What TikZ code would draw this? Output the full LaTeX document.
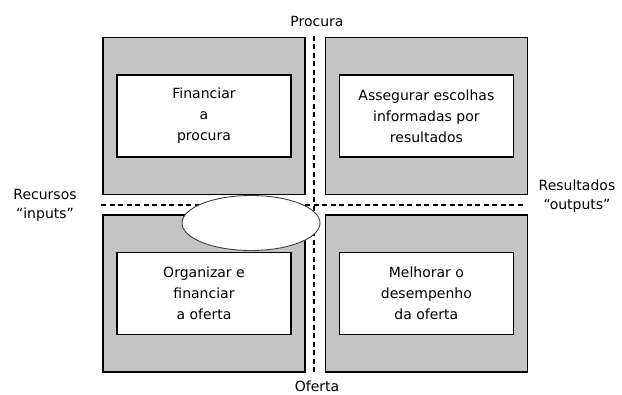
\documentclass[tikz,border=0pt]{standalone}
\usepackage{fontspec}
\setmainfont{DejaVu Sans}
\usetikzlibrary{positioning,shapes.geometric}
\definecolor{quadgray}{RGB}{196,196,196}

\begin{document}
\begin{tikzpicture}[
            x = 1pt, y = -1pt, % pixel grid, y downwards
            node distance = 19pt, % gap between quadrants
            font = \fontsize{14}{21}\selectfont,
            quad/.style = {shape=rectangle,draw,fill=quadgray,line width=1.4pt,
                           minimum width=202pt,minimum height=157pt,inner sep=0pt},
            task/.style = {shape=rectangle,draw,fill=white,line width=1.4pt,
                           minimum width=174pt,minimum height=82pt,align=center,inner sep=0pt},
            axis/.style = {line width=1.4pt,dash pattern=on 5pt off 3.5pt},
            hub/.style = {shape=ellipse,draw=black!75,fill=white,line width=0.9pt,
                          minimum width=138pt,minimum height=55pt},
            side/.style = {align=center,font=\fontsize{14}{19}\selectfont}
        ]
        \useasboundingbox (0,0) rectangle (622,395);

        % quadrants
        \node[quad] (ql)  at (204,116)        {};
        \node[quad] (qr)  [right=of ql]       {};
        \node[quad] (bl)  [below=of ql]       {};
        \node[quad] (br)  [below=of qr]       {};

        % axes
        \coordinate (vtop) at (314,36);
        \coordinate (vbot) at (314,374);
        \coordinate (hlft) at (101,205);
        \coordinate (hrgt) at (524,205);
        \draw[axis] (vtop) -- (vbot);
        \draw[axis] (hlft) -- (hrgt);

        \node[hub] (mid) at (251,223) {};

        % inner boxes
        \node[task] (fin) at (ql) {Financiar\\a\\procura};
        \node[task] (esc) at (qr) {Assegurar escolhas\\informadas por\\resultados};
        \node[task] (org) at (bl) {Organizar e\\financiar\\a oferta};
        \node[task] (mel) at (br) {Melhorar o\\desempenho\\da oferta};

        % axis labels
        \node (proc) at (317,22)  {Procura};
        \node (ofer) at (317,386) {Oferta};
        \node[side] (rec) at (45,205)  {Recursos\\“inputs”};
        \node[side] (res) at (577,196) {Resultados\\“outputs”};
    \end{tikzpicture}
\end{document}
